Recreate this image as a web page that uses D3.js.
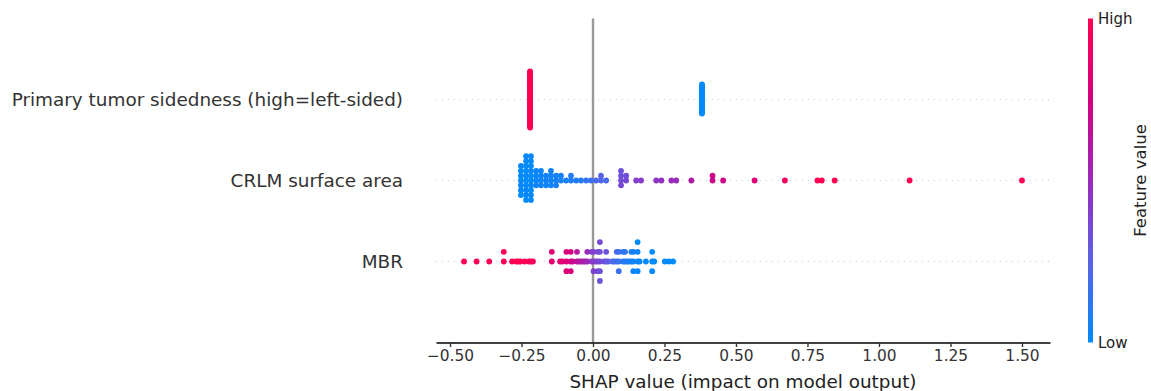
<!DOCTYPE html>
<html>
<head>
<meta charset="utf-8">
<script src="https://cdn.jsdelivr.net/npm/d3@7"></script>
<style>
body { margin: 0; background: #fff; }
svg { display: block; font-family: "DejaVu Sans", sans-serif; }
</style>
</head>
<body>
<svg id="chart" width="1151" height="391"></svg>
<script>
// features, bottom row first
const features = ["MBR", "CRLM surface area", "Primary tumor sidedness (high=left-sided)"];
const xTicks = [-0.5, -0.25, 0, 0.25, 0.5, 0.75, 1, 1.25, 1.5];

// shap values and normalised feature values (0 = low, 1 = high), one entry per sample
const mbrShap = [
  -0.451, -0.407, -0.363, -0.312, -0.312, -0.283, -0.268, -0.261, -0.254, -0.239, -0.224, -0.217, -0.210,
  -0.144, -0.144, -0.115, -0.107, -0.093, -0.093, -0.093, -0.078, -0.078, -0.078,
  -0.071, -0.056, -0.056, -0.049, -0.042, -0.034, -0.027, -0.020, -0.020, -0.005, -0.005,
  0.002, 0.002, 0.002, 0.010, 0.017, 0.017, 0.017, 0.024, 0.024, 0.024, 0.024, 0.024,
  0.039, 0.046, 0.046, 0.053,
  0.068, 0.075, 0.083, 0.083, 0.090, 0.090, 0.090, 0.105, 0.105, 0.112, 0.112, 0.119, 0.126,
  0.134, 0.134, 0.141, 0.141, 0.141, 0.156, 0.156, 0.156, 0.156, 0.163,
  0.185, 0.207, 0.207, 0.207, 0.214, 0.251, 0.265, 0.280
];
const mbrValue = [
  1, 1, 1, 1, 1, 1, 1, 0.98, 1, 0.97, 0.96, 0.97, 0.95,
  0.85, 0.83, 0.85, 0.82, 0.8, 0.78, 0.8, 0.78, 0.75, 0.77,
  0.7, 0.65, 0.62, 0.62, 0.6, 0.58, 0.55, 0.52, 0.5, 0.45, 0.42,
  0.42, 0.4, 0.4, 0.4, 0.38, 0.36, 0.38, 0.36, 0.35, 0.34, 0.36, 0.33,
  0.33, 0.3, 0.32, 0.28,
  0.22, 0.2, 0.18, 0.2, 0.16, 0.18, 0.17, 0.12, 0.14, 0.1, 0.12, 0.1, 0.08,
  0.06, 0.08, 0.05, 0.06, 0.04, 0.03, 0.04, 0.02, 0.02, 0.02,
  0.01, 0.01, 0, 0.01, 0, 0, 0, 0
];

const crlmShap = [
  -0.252, -0.252, -0.252, -0.252, -0.252, -0.252, -0.252,
  -0.234, -0.234, -0.234, -0.234, -0.234, -0.234, -0.234, -0.234, -0.234, -0.234,
  -0.217, -0.217, -0.217, -0.217, -0.217, -0.217, -0.217, -0.217, -0.217, -0.217,
  -0.199, -0.199, -0.199, -0.199, -0.182, -0.182, -0.182, -0.182, -0.164, -0.164, -0.164,
  -0.147, -0.147, -0.147, -0.147, -0.129, -0.129, -0.129, -0.112, -0.112, -0.094,
  -0.077, -0.077, -0.059, -0.042, -0.024, -0.007, 0.011, 0.028, 0.028, 0.046,
  0.098, 0.098, 0.098, 0.098, 0.116, 0.116, 0.151, 0.168, 0.221, 0.239, 0.274, 0.291,
  0.344, 0.418, 0.418, 0.455, 0.565, 0.671, 0.785, 0.800, 0.845, 1.107, 1.500
];
const crlmValue = [
  0.02, 0, 0.03, 0, 0.01, 0.02, 0,
  0, 0.02, 0.01, 0, 0.03, 0, 0.02, 0.01, 0, 0.02,
  0.01, 0, 0.02, 0.03, 0, 0.01, 0.02, 0, 0.01, 0.03,
  0.03, 0.02, 0.04, 0.03, 0.04, 0.03, 0.05, 0.04, 0.05, 0.04, 0.05,
  0.05, 0.06, 0.04, 0.05, 0.06, 0.05, 0.06, 0.07, 0.06, 0.07,
  0.08, 0.1, 0.08, 0.1, 0.14, 0.16, 0.2, 0.22, 0.25, 0.2,
  0.35, 0.33, 0.36, 0.32, 0.36, 0.34, 0.4, 0.42, 0.45, 0.47, 0.5, 0.5,
  0.6, 0.7, 0.72, 0.72, 0.82, 0.92, 1, 1, 1, 1, 1
];

const sidedShap = [
  -0.220, -0.220, -0.220, -0.220, -0.220, -0.220, -0.220, -0.220, -0.220, -0.220,
  -0.220, -0.220, -0.220, -0.220, -0.220, -0.220, -0.220, -0.220, -0.220, -0.220,
  -0.220, -0.220, -0.220, -0.220, -0.220, -0.220, -0.220, -0.220, -0.220, -0.220,
  -0.220, -0.220, -0.220, -0.220, -0.220, -0.220, -0.220, -0.220, -0.220, -0.220,
  -0.220, -0.220, -0.220, -0.220, -0.220, -0.220, -0.220, -0.220, -0.220, -0.220,
  -0.220, -0.220, -0.220,
  0.381, 0.381, 0.381, 0.381, 0.381, 0.381, 0.381, 0.381, 0.381, 0.381,
  0.381, 0.381, 0.381, 0.381, 0.381, 0.381, 0.381, 0.381, 0.381, 0.381,
  0.381, 0.381, 0.381, 0.381, 0.381, 0.381, 0.381, 0.381
];
const sidedValue = [
  1, 1, 1, 1, 1, 1, 1, 1, 1, 1, 1, 1, 1, 1, 1, 1, 1, 1, 1, 1,
  1, 1, 1, 1, 1, 1, 1, 1, 1, 1, 1, 1, 1, 1, 1, 1, 1, 1, 1, 1,
  1, 1, 1, 1, 1, 1, 1, 1, 1, 1, 1, 1, 1,
  0, 0, 0, 0, 0, 0, 0, 0, 0, 0, 0, 0, 0, 0, 0, 0, 0, 0, 0, 0,
  0, 0, 0, 0, 0, 0, 0, 0
];

// colour ramp stops, low -> high
const rampStops = [0, 0.25, 0.5, 0.75, 1];
const rampColors = ["#008bfb", "#5a62e6", "#9a2abc", "#d6007f", "#ff0052"];

const rows = [
  {shap: mbrShap, value: mbrValue},
  {shap: crlmShap, value: crlmValue},
  {shap: sidedShap, value: sidedValue}
];

const svg = d3.select("#chart");
const x = d3.scaleLinear().domain([-0.549, 1.598]).range([436, 1050]);
const y = d3.scaleLinear().domain([-1, 3]).range([342.5, 18.5]);
const color = d3.scaleLinear().domain(rampStops).range(rampColors).interpolate(d3.interpolateRgb).clamp(true);

// same stacking as shap's summary plot: 100 bins, alternate up/down inside a bin
function swarm(shaps) {
  const nbins = 100;
  const mn = d3.min(shaps), mx = d3.max(shaps);
  const quant = shaps.map(s => Math.round(nbins * (s - mn) / (mx - mn + 1e-8)));
  const inds = d3.range(shaps.length).sort((a, b) => quant[a] - quant[b] || a - b);
  const ys = shaps.map(() => 0);
  let layer = 0, last = -1;
  for (const i of inds) {
    if (quant[i] !== last) layer = 0;
    ys[i] = Math.ceil(layer / 2) * ((layer % 2) * 2 - 1);
    layer += 1;
    last = quant[i];
  }
  const m = d3.max(ys, v => v + 1);
  return ys.map(v => v * 0.9 * (0.4 / m));
}

// row guides
svg.append("g").selectAll("line")
  .data(features)
  .join("line")
  .attr("x1", 436).attr("x2", 1050)
  .attr("y1", (d, i) => y(i)).attr("y2", (d, i) => y(i))
  .attr("stroke", "#cccccc")
  .attr("stroke-width", 1)
  .attr("stroke-dasharray", "1,5");

// zero line
svg.append("line")
  .attr("x1", x(0)).attr("x2", x(0))
  .attr("y1", y(3)).attr("y2", y(-1))
  .attr("stroke", "#999999")
  .attr("stroke-width", 2.4);

rows.forEach((row, pos) => {
  const ys = swarm(row.shap);
  svg.append("g").selectAll("circle")
    .data(row.shap)
    .join("circle")
    .attr("cx", d => x(d))
    .attr("cy", (d, i) => y(pos + ys[i]))
    .attr("r", 2.9)
    .attr("fill", (d, i) => color(row.value[i]));
});

// feature names
svg.append("g").selectAll("text")
  .data(features)
  .join("text")
  .attr("x", 403)
  .attr("y", (d, i) => y(i))
  .attr("dy", "0.36em")
  .attr("text-anchor", "end")
  .attr("fill", "#333333")
  .style("font-size", "18.4px")
  .text(d => d);

// x axis
const xAxis = svg.append("g")
  .attr("transform", `translate(0,${y(-1)})`)
  .call(d3.axisBottom(x).tickValues(xTicks).tickFormat(d3.format(".2f")).tickSize(4.5).tickSizeOuter(0).tickPadding(3));
xAxis.select(".domain").attr("stroke", "#000").attr("stroke-width", 1.6);
xAxis.selectAll(".tick line").attr("stroke", "#333333").attr("stroke-width", 1.4);
xAxis.selectAll(".tick text")
  .attr("fill", "#333333")
  .style("font-size", "15.4px")
  .style("font-family", "DejaVu Sans");

svg.append("text")
  .attr("x", (436 + 1050) / 2)
  .attr("y", 388)
  .attr("text-anchor", "middle")
  .attr("fill", "#222")
  .style("font-size", "18.4px")
  .text("SHAP value (impact on model output)");

// colour bar
const grad = svg.append("defs").append("linearGradient")
  .attr("id", "cbar")
  .attr("x1", 0).attr("x2", 0).attr("y1", 1).attr("y2", 0);
grad.selectAll("stop")
  .data(d3.range(0, 1.0001, 0.05))
  .join("stop")
  .attr("offset", d => d)
  .attr("stop-color", d => color(d));

svg.append("rect")
  .attr("x", 1088).attr("y", y(3))
  .attr("width", 5).attr("height", y(-1) - y(3))
  .attr("fill", "url(#cbar)");

svg.append("text")
  .attr("x", 1098).attr("y", y(3)).attr("dy", "0.36em")
  .attr("fill", "#222")
  .style("font-size", "15px")
  .text("High");
svg.append("text")
  .attr("x", 1098).attr("y", y(-1)).attr("dy", "0.36em")
  .attr("fill", "#222")
  .style("font-size", "15px")
  .text("Low");
svg.append("text")
  .attr("transform", `translate(1146,${(y(3) + y(-1)) / 2}) rotate(-90)`)
  .attr("text-anchor", "middle")
  .attr("fill", "#222")
  .style("font-size", "16.5px")
  .text("Feature value");
</script>
</body>
</html>
